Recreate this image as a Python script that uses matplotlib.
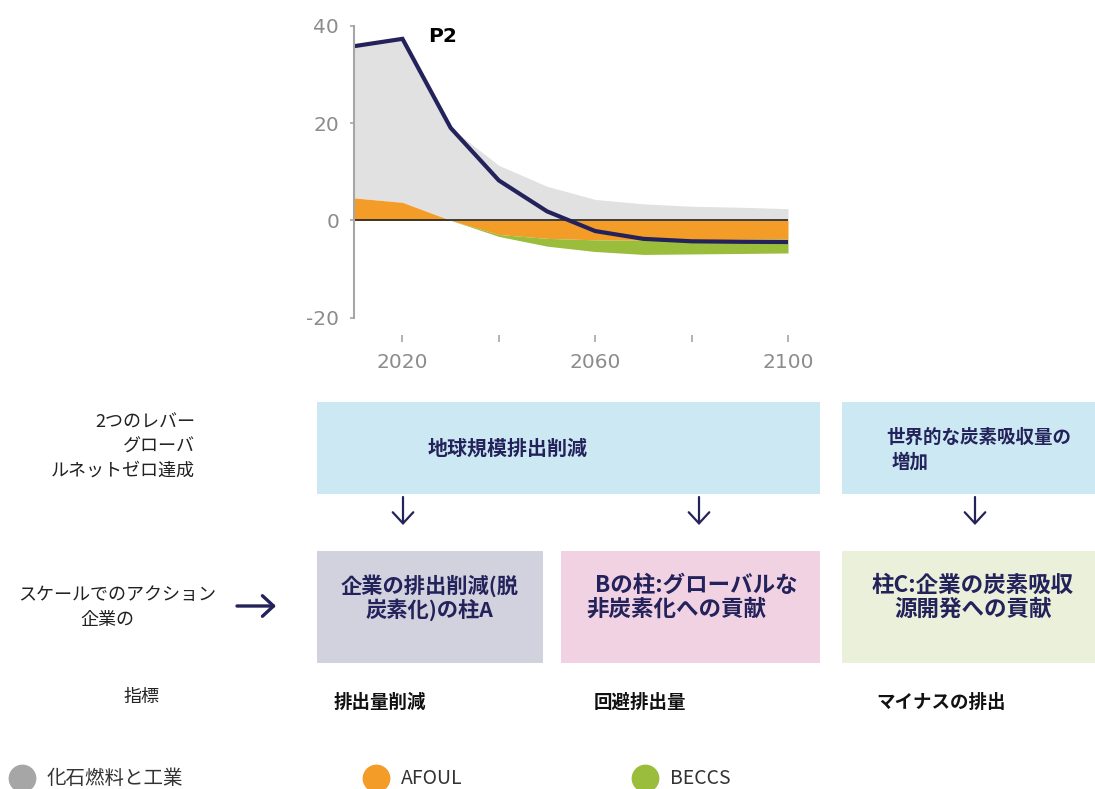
import matplotlib
matplotlib.use("Agg")
import matplotlib.pyplot as plt
import numpy as np
from matplotlib.patches import Rectangle

plt.rcParams['font.family'] = ['Noto Sans CJK JP', 'DejaVu Sans']
plt.rcParams['axes.unicode_minus'] = False

# emissions pathway (GtCO2/yr), one point per decade
years = [2010, 2020, 2030, 2040, 2050, 2060, 2070, 2080, 2090, 2100]
fossil = [31.2, 33.6, 19.0, 11.3, 7.0, 4.3, 3.4, 2.9, 2.7, 2.4]
afolu = [4.6, 3.7, 0.0, -2.9, -3.7, -4.0, -4.1, -4.0, -3.9, -3.8]
beccs = [0.0, 0.0, 0.0, -0.4, -1.6, -2.4, -2.9, -2.9, -2.9, -2.9]
net_p2 = [35.8, 37.3, 19.0, 8.2, 1.85, -2.2, -3.8, -4.3, -4.4, -4.45]

xticks = [2020, 2040, 2060, 2080, 2100]
xticklabels = ['2020', '', '2060', '', '2100']
yticks = [-20, 0, 20, 40]

legend_names = ['化石燃料と工業', 'AFOUL', 'BECCS']

navy = '#23225a'
gray_fill = '#e1e1e1'
orange = '#f39c28'
green = '#9bbd3c'
axis_gray = '#8c8c8c'

W, H = 1095, 789
fig = plt.figure(figsize=(W / 100, H / 100), dpi=100)

# chart area placed in pixel units
left, right, top, bottom = 354.3, 788.0, 25.7, 317.7
ax = fig.add_axes([left / W, 1 - bottom / H, (right - left) / W, (bottom - top) / H])

yr = np.array(years)
af = np.array(afolu)
pos = np.clip(af, 0, None)
neg = np.clip(af, None, 0)
ax.fill_between(yr, pos, pos + np.array(fossil), color=gray_fill, lw=0)
ax.fill_between(yr, 0, af, color=orange, lw=0)
ax.fill_between(yr, neg, neg + np.array(beccs), color=green, lw=0)
ax.axhline(0, color='#222222', lw=1.2)
ax.plot(yr, net_p2, color=navy, lw=3, solid_joinstyle='miter')

ax.set_xlim(2010, 2100)
ax.set_ylim(-20, 40)
ax.set_yticks(yticks)
ax.set_xticks(xticks)
ax.set_xticklabels(xticklabels)
for s in ['top', 'right']:
    ax.spines[s].set_visible(False)
ax.spines['left'].set_color('#a6a6a6')
ax.spines['left'].set_linewidth(1.5)
ax.spines['bottom'].set_position(('outward', 12.5))
ax.spines['bottom'].set_color('none')
ax.tick_params(axis='y', length=3, width=1.2, color='#a6a6a6', pad=8,
               labelsize=14.5, labelcolor=axis_gray)
ax.tick_params(axis='x', length=5, width=1.2, color='#a6a6a6', pad=8,
               labelsize=14.5, labelcolor=axis_gray)
for t in ax.get_xticklabels() + ax.get_yticklabels():
    t.set_fontfamily('DejaVu Sans')
ax.patch.set_visible(False)

# overlay in pixel coordinates for the lever/pillar diagram
ov = fig.add_axes([0, 0, 1, 1])
ov.set_xlim(0, W)
ov.set_ylim(H, 0)
ov.axis('off')
ov.patch.set_visible(False)

ov.text(428, 36, 'P2', fontsize=14.5, fontweight='bold', color='black',
        family='DejaVu Sans', va='center', ha='left')

boxes = [
    (317, 402, 820, 494, '#cce9f3'),
    (842, 402, 1095, 494, '#cce9f3'),
    (317, 551, 543, 663, '#d2d2df'),
    (561, 551, 820, 663, '#f0d2e2'),
    (842, 551, 1095, 663, '#ebf0da'),
]
for x0, y0, x1, y1, c in boxes:
    ov.add_patch(Rectangle((x0, y0), x1 - x0, y1 - y0, color=c, lw=0))

bold = dict(fontweight='bold', color=navy, va='center')
ov.text(507.5, 448, '地球規模排出削減', ha='center', fontsize=14.4, **bold)
ov.text(886, 437, '世界的な炭素吸収量の', ha='left', fontsize=13.3, **bold)
ov.text(892, 462, '増加', ha='left', fontsize=13.3, **bold)
ov.text(430, 586, '企業の排出削減(脱', ha='center', fontsize=15.3, **bold)
ov.text(430, 610, '炭素化)の柱A', ha='center', fontsize=15.3, **bold)
ov.text(595, 585, 'Bの柱:グローバルな', ha='left', fontsize=16.2, **bold)
ov.text(586, 609, '非炭素化への貢献', ha='left', fontsize=16.2, **bold)
ov.text(973, 585, '柱C:企業の炭素吸収', ha='center', fontsize=16.2, **bold)
ov.text(973, 609, '源開発への貢献', ha='center', fontsize=16.2, **bold)

# arrows
arrow_style = '->, head_length=0.4, head_width=0.37'
for xa in [403, 699, 975]:
    ov.annotate('', xy=(xa, 525), xytext=(xa, 497),
                arrowprops=dict(arrowstyle=arrow_style, color=navy, lw=1.6,
                                mutation_scale=20, shrinkA=0, shrinkB=0))
ov.annotate('', xy=(276, 606), xytext=(237, 606),
            arrowprops=dict(arrowstyle=arrow_style, color=navy, lw=2.4,
                            mutation_scale=20, shrinkA=0, shrinkB=0))

# row labels on the left
plain = dict(fontsize=13, color='#222222', va='center')
ov.text(195, 423, '2つのレバー', ha='right', **plain)
ov.text(195, 447, 'グローバ', ha='right', **plain)
ov.text(195, 471, 'ルネットゼロ達成', ha='right', **plain)
ov.text(117, 595, 'スケールでのアクション', ha='center', **plain)
ov.text(107, 620, '企業の', ha='center', **plain)
ov.text(141, 697, '指標', ha='center', **plain)

metric = dict(fontsize=13.3, fontweight='bold', color='#111111', va='center')
ov.text(334, 702, '排出量削減', ha='left', **metric)
ov.text(594, 702, '回避排出量', ha='left', **metric)
ov.text(876, 702, 'マイナスの排出', ha='left', **metric)

# legend
legend_colors = ['#a6a6a6', orange, green]
legend_x = [22, 376, 645]
for name, c, lx in zip(legend_names, legend_colors, legend_x):
    ov.scatter([lx], [778], s=400, color=c, lw=0, clip_on=False)
    ov.text(lx + 25, 778, name, fontsize=14, color='#333333', va='center', ha='left')

fig.savefig('out.png', dpi=100)
